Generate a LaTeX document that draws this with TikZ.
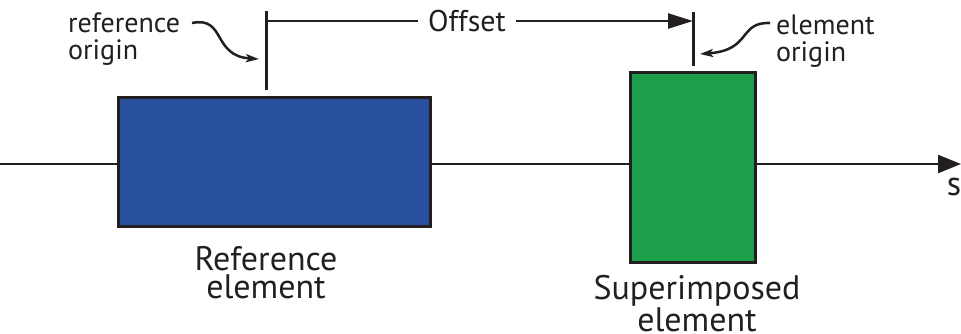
\documentclass[tikz,border=0pt]{standalone}
\usepackage{fontspec}
\setmainfont{PT Sans}
\usetikzlibrary{arrows.meta}
\definecolor{refblue}{RGB}{41,79,159}
\definecolor{supgreen}{RGB}{27,159,74}
\definecolor{ink}{RGB}{35,31,32}
\begin{document}
\begin{tikzpicture}[x=1pt,y=-1pt,
  line/.style={draw=ink,line width=2.5pt},
  tick/.style={draw=ink,line width=3pt},
  elem/.style={draw=ink,line width=3pt,inner sep=0pt,anchor=north west},
  bigtip/.style={-{Triangle[length=25pt,width=15pt]}},
  axistip/.style={-{Triangle[length=23pt,width=18pt]}},
  smalltip/.style={-{Stealth[length=13pt,width=8pt,inset=3pt]}},
  lbl/.style={font=\fontsize{28}{27}\selectfont,text=ink,align=left,inner sep=0pt},
  offtxt/.style={font=\fontsize{30}{30}\selectfont,text=ink,inner sep=0pt},
  captxt/.style={font=\fontsize{34}{28}\selectfont,text=ink,align=center,inner sep=0pt}]
\useasboundingbox (0,0) rectangle (961,333);
% s axis
\coordinate (axL) at (0,164);
\coordinate (axR) at (961,164);
\draw[line,axistip] (axL) -- (axR);
\node[captxt,anchor=base] (s) at (954,195) {s};
% elements
\node[elem,fill=refblue,minimum width=312pt,minimum height=129pt] (ref) at (117,96) {};
\node[elem,fill=supgreen,minimum width=125pt,minimum height=190pt] (sup) at (629,71) {};
\node[captxt,anchor=north] (reftxt) at (266,246) {Reference\\element};
\node[captxt,anchor=north] (suptxt) at (697,275) {Superimposed\\element};
% origin ticks
\coordinate (rtop) at (266,11);
\coordinate (rbot) at (266,90);
\coordinate (etop) at (693,12);
\coordinate (ebot) at (693,66);
\draw[tick] (rtop) -- (rbot);
\draw[tick] (etop) -- (ebot);
% offset dimension
\coordinate (o1) at (266,21);
\coordinate (o2) at (693,21);
\node[offtxt] (off) at (467,21) {Offset};
\draw[line] (o1) -- ([xshift=-10pt]off.west);
\draw[line,bigtip] ([xshift=10pt]off.east) -- (o2);
% origin labels
\node[lbl,anchor=north west] (rlab) at (68,13) {reference\\origin};
\node[lbl,anchor=north west] (elab) at (776,15) {element\\origin};
\coordinate (rpt) at (259,59);
\coordinate (ept) at (700,54);
\draw[line,smalltip] (192,23) .. controls (226,16) and (212,56) .. (rpt);
\draw[line,smalltip] (770,23) .. controls (738,22) and (752,50) .. (ept);
\end{tikzpicture}
\end{document}
